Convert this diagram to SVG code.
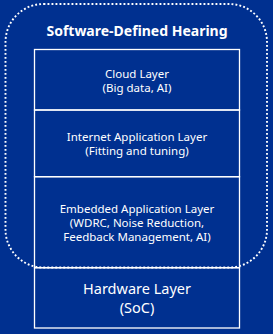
<svg xmlns="http://www.w3.org/2000/svg" width="273" height="334" viewBox="0 0 273 334">
<style>
.bg{fill:#003090}
.box{fill:none;stroke:#fff;stroke-width:1.3}
.t{font-family:"Noto Sans","Open Sans",sans-serif;fill:#fff;text-anchor:middle;font-size:11.5px}
.h{font-size:14px;font-weight:bold}
.hw{font-size:14.5px}
.dot{fill:none;stroke:#fff;stroke-width:1.9;stroke-dasharray:1.9 2.1}
</style>
<rect class="bg" x="0" y="0" width="273" height="334"/>
<g id="connectors"></g>
<g id="cloud">
<rect class="box" x="34.5" y="49.5" width="205" height="60.5"/>
<text class="t" x="137" y="78">Cloud Layer</text>
<text class="t" x="137" y="91.5">(Big data, AI)</text>
</g>
<g id="internet">
<rect class="box" x="34.5" y="110" width="205" height="66.7"/>
<text class="t" x="137" y="141">Internet Application Layer</text>
<text class="t" x="137" y="155">(Fitting and tuning)</text>
</g>
<g id="embedded">
<rect class="box" x="34.5" y="176.7" width="205" height="91"/>
<text class="t" x="137" y="213">Embedded Application Layer</text>
<text class="t" x="137" y="227">(WDRC, Noise Reduction,</text>
<text class="t" x="137" y="241">Feedback Management, AI)</text>
</g>
<g id="hardware">
<rect class="box" x="34.5" y="267.7" width="205" height="60.3"/>
<text class="t hw" x="137" y="293.5">Hardware Layer</text>
<text class="t hw" x="137" y="312.5">(SoC)</text>
</g>
<g id="sdh">
<rect class="dot" x="5.5" y="4" width="261.5" height="263.5" rx="38"/>
<text class="t h" x="137" y="36">Software-Defined Hearing</text>
</g>
</svg>
